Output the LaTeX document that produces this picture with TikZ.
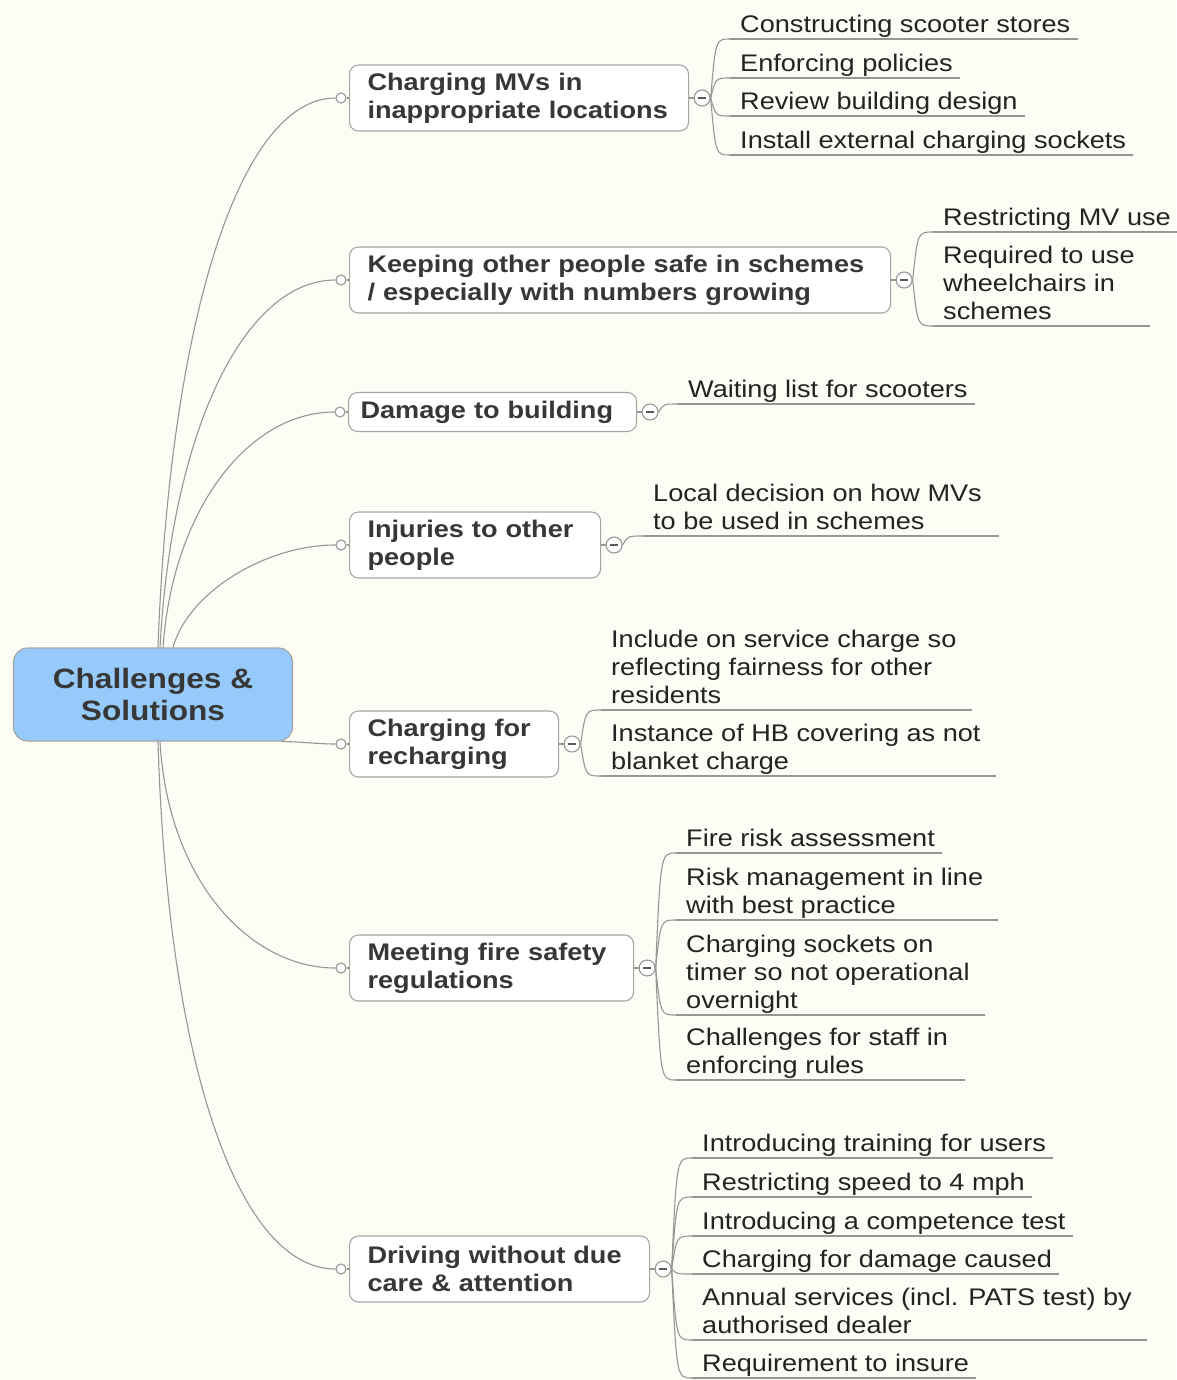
\documentclass[tikz,border=0pt]{standalone}
\usepackage{fontspec}
\setmainfont{Liberation Sans}[FakeStretch=1.13]
\usetikzlibrary{calc}
\definecolor{bg}{RGB}{253,253,246}
\definecolor{linec}{RGB}{150,150,150}
\definecolor{boxc}{RGB}{165,165,165}
\definecolor{rootfill}{RGB}{150,202,250}
\definecolor{txt}{RGB}{35,35,35}
\definecolor{btxt}{RGB}{55,55,55}
\definecolor{minusc}{RGB}{90,90,90}
\begin{document}
\begin{tikzpicture}[x=1pt,y=-1pt,
 conn/.style={draw=linec, line width=1.1pt},
 rootbox/.style={draw=boxc, fill=rootfill, rounded corners=14pt, minimum width=279pt, minimum height=93pt, align=center, font=\fontsize{28}{32}\selectfont\bfseries, text=btxt, line width=1.1pt},
 branch/.style={draw=boxc, fill=white, rounded corners=9pt, anchor=west, inner xsep=18pt, inner ysep=0pt, minimum height=66pt, align=left, font=\fontsize{24}{28}\selectfont\bfseries, text=btxt, line width=1.1pt},
 leaf/.style={anchor=south west, inner xsep=10pt, inner ysep=1pt, text depth=5pt, align=left, font=\fontsize{24}{28}\selectfont, text=txt},
 knob/.style={circle, draw=linec, fill=white, inner sep=0pt, minimum size=10pt, line width=1.1pt},
 minusknob/.style={circle, draw=linec, fill=white, inner sep=0pt, minimum size=16pt, line width=1.1pt,
   path picture={\draw[minusc, line width=1.6pt] ([xshift=-4pt]path picture bounding box.center) -- ([xshift=4pt]path picture bounding box.center);}},
]
\useasboundingbox (0,0) rectangle (1176,1380);
\fill[bg] (0,0) rectangle (1176,1380);

% root
\node[rootbox] (root) at (153,694.5) {Challenges \&\\Solutions};

% branches
\node[branch, text width=303pt] (b1) at (349,98) {\mbox{Charging MVs in}\\\mbox{inappropriate locations}};
\node[branch, text width=505pt] (b2) at (349,280) {\mbox{Keeping other people safe in schemes}\\\mbox{/ especially with numbers growing}};
\node[branch, minimum height=39pt, inner xsep=12pt, text width=264pt] (b3) at (348,412) {\mbox{Damage to building}};
\node[branch, text width=215pt] (b4) at (349,545) {\mbox{Injuries to other}\\\mbox{people}};
\node[branch, text width=173pt] (b5) at (349,744) {\mbox{Charging for}\\\mbox{recharging}};
\node[branch, text width=248pt] (b6) at (349,968) {\mbox{Meeting fire safety}\\\mbox{regulations}};
\node[branch, text width=264pt] (b7) at (349,1269) {\mbox{Driving without due}\\\mbox{care \& attention}};

% knobs
\foreach \i in {1,...,7} {
  \node[knob] (c\i) at ($(b\i.west)+(-8,0)$) {};
  \draw[conn] (c\i.east) -- (b\i.west);
  \node[minusknob] (m\i) at ($(b\i.east)+(13,0)$) {};
  \draw[conn] (b\i.east) -- (m\i.west);
  \coordinate (m\i-c) at ($(m\i.east)+(5,0)$);
}

% root connectors
\draw[conn] ([xshift=5pt]root.north) .. controls +(12,-330) and +(-95,0) .. (c1.west);
\draw[conn] ([xshift=7pt]root.north) .. controls +(12,-220) and +(-90,0) .. (c2.west);
\draw[conn] ([xshift=10pt]root.north) .. controls +(10,-140) and +(-85,0) .. (c3.west);
\draw[conn] ([xshift=20pt]root.north) .. controls +(15,-55) and +(-70,0) .. (c4.west);
\draw[conn] ([xshift=-12pt]root.south east) .. controls +(20,0) and +(-20,0) .. (c5.west);
\draw[conn] ([xshift=7pt]root.south) .. controls +(8,140) and +(-85,0) .. (c6.west);
\draw[conn] ([xshift=5pt]root.south) .. controls +(10,330) and +(-95,0) .. (c7.west);

% leaves
\node[leaf] (l1a) at (730,39) {Constructing scooter stores};
\node[leaf] (l1b) at (730,78) {Enforcing policies};
\node[leaf] (l1c) at (730,116) {Review building design};
\node[leaf] (l1d) at (730,155) {Install external charging sockets};

\node[leaf] (l2a) at (933,232) {Restricting MV use};
\node[leaf] (l2b) at (933,326) {Required to use\\wheelchairs in\\schemes};

\node[leaf] (l3a) at (678,404) {Waiting list for scooters};

\node[leaf] (l4a) at (643,536) {Local decision on how MVs\\to be used in schemes};

\node[leaf] (l5a) at (601,710) {Include on service charge so\\reflecting fairness for other\\residents};
\node[leaf] (l5b) at (601,776) {Instance of HB covering as not\\blanket charge};

\node[leaf] (l6a) at (676,853) {Fire risk assessment};
\node[leaf] (l6b) at (676,920) {Risk management in line\\with best practice};
\node[leaf] (l6c) at (676,1015) {Charging sockets on\\timer so not operational\\overnight};
\node[leaf] (l6d) at (676,1080) {Challenges for staff in\\enforcing rules};

\node[leaf] (l7a) at (692,1158) {Introducing training for users};
\node[leaf] (l7b) at (692,1197) {Restricting speed to 4 mph};
\node[leaf] (l7c) at (692,1236) {Introducing a competence test};
\node[leaf] (l7d) at (692,1274) {Charging for damage caused};
\node[leaf] (l7e) at (692,1340) {Annual services (incl. PATS test) by\\authorised dealer};
\node[leaf] (l7f) at (692,1378) {Requirement to insure};

% underlines
\foreach \n/\e in {l1a/-3,l1b/-3,l1c/-3,l1d/-3,l2a/6,l2b/5,l3a/-3,l4a/7,l5a/5,l5b/5,l6a/-3,l6b/5,l6c/5,l6d/7,l7a/-3,l7b/-3,l7c/-3,l7d/-3,l7e/5,l7f/-3}
  \draw[conn] (\n.south west) -- ([xshift=\e pt]\n.south east);

% leaf connectors
\foreach \m/\l in {m1/l1a,m1/l1b,m1/l1c,m1/l1d,m2/l2a,m2/l2b,m3/l3a,m4/l4a,m5/l5a,m5/l5b,m6/l6a,m6/l6b,m6/l6c,m6/l6d,m7/l7a,m7/l7b,m7/l7c,m7/l7d,m7/l7e,m7/l7f}
  \draw[conn] (\m.east) .. controls (\m-c |- \l.south west) .. (\l.south west);
\end{tikzpicture}
\end{document}
